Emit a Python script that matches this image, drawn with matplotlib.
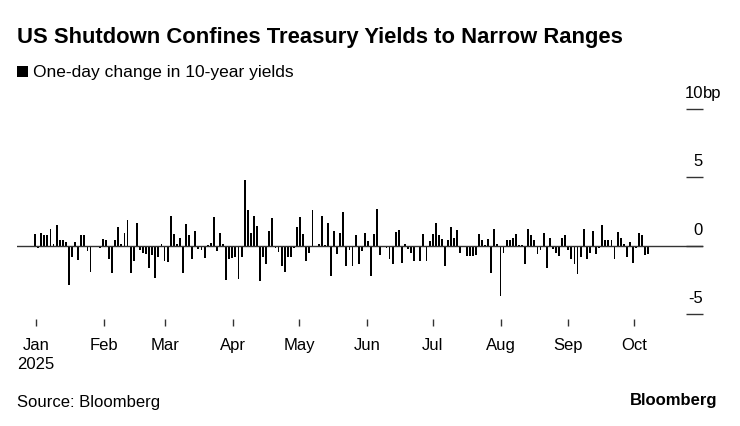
import matplotlib.pyplot as plt
import matplotlib.dates as mdates
import matplotlib.transforms as mtransforms
from matplotlib.patches import Rectangle
import numpy as np
import pandas as pd

# ==============================
# DATA (one-day change in 10y yield, bp, one value per trading day)
# ==============================
FIRST_DAY = "2024-12-31"
LAST_DAY = "2025-10-07"
HOLIDAYS = ["2025-01-01"]

chg_part1 = [0.85, -0.15, 0.9, 0.75, 0.75, 1.2, 0.1, 1.5, 0.45, 0.4, 0.3, -2.85, -0.8, 0.3, -1.05,
             0.75, 0.75, -0.4, -1.9, 0.0, 0.0, -0.2, 0.5, 0.4, -0.95, -2.0, 0.4, 1.4, 0.1, 0.9,
             1.9, -2.0, -1.1]
chg_part2 = [1.7, -0.3, -0.5, -0.6, -1.6, -0.65, -2.35, -0.85, 0.1, -1.1, -1.2, 2.2, 0.85, 0.1, 0.55,
             -2.0, 1.6, 0.8, -1.0, 1.05, -0.25, -0.3, -0.9, 0.05, 0.2, 2.1, -0.4, 0.95, 0.15, -2.5,
             -1.0, -0.9, -0.8, -2.4]
chg_part3 = [-0.8, 4.8, 2.6, 0.9, 2.15, 1.45, -2.6, -0.85, -1.3, 1.1, 2.0, -0.2, -0.45, -1.5, -1.9,
             -0.8, -0.8, -0.2, 1.4, 2.1, 0.85, -1.1, -0.5, 2.6, 0.0, 0.1, 2.2, 0.05, 1.65, -2.25,
             1.1, -0.6, 0.9, 2.5]
chg_part4 = [-1.45, -0.3, -1.45, 0.8, -1.3, -0.35, 0.9, 0.35, -2.2, 0.85, 2.7, -0.65, 0.0, -0.2, -1.0,
             -1.35, 1.0, 1.15, -1.25, 0.1, -0.25, -0.5, -1.15, 0.0, -1.1, 0.85, -1.1, 0.35, 0.85, 1.65,
             0.8, 0.5, -1.5, 0.45]
chg_part5 = [1.4, 0.55, 1.15, -0.5, 0.0, -0.75, -0.75, -0.75, -0.7, 0.85, 0.4, 0.05, 0.5, -2.0, 1.2,
             0.1, -3.65, -0.5, 0.45, 0.45, 0.6, 0.85, 0.05, 0.05, -1.3, 1.25, 0.75, 0.45, -0.6, -0.3,
             0.9, -1.65, 0.55, -0.25]
chg_part6 = [-0.5, -0.75, 0.6, 0.8, -0.3, -1.0, -1.35, -2.05, -0.85, 1.25, -1.0, -0.5, 1.1, -0.6, -0.15,
             1.5, 0.4, 0.45, 0.45, -0.95, 1.0, 0.6, 0.15, -0.8, 0.25, -1.25, -0.2, 0.9, 0.8, -0.65,
             -0.6]

y_ticks = [-5, 0, 5, 10]
y_labels = ["-5", "0", "5", "10"]
month_labels = ["Jan\n2025", "Feb", "Mar", "Apr", "May", "Jun", "Jul", "Aug", "Sep", "Oct"]

TITLE = "US Shutdown Confines Treasury Yields to Narrow Ranges"
LEGEND = "One-day change in 10-year yields"
SOURCE = "Source: Bloomberg"

# ==============================
# STYLE
# ==============================
plt.rcParams["font.family"] = ["Liberation Sans", "DejaVu Sans"]
INK = "#000000"
AXIS = "#333333"
W, H = 740, 427

changes = chg_part1 + chg_part2 + chg_part3 + chg_part4 + chg_part5 + chg_part6
days = pd.bdate_range(FIRST_DAY, LAST_DAY, freq="C", holidays=HOLIDAYS)
# trading days are drawn evenly spaced (no weekend gaps) over the calendar axis
x_pos = np.linspace(mdates.date2num(days[0]) + 0.5, mdates.date2num(days[-1]) + 0.5, len(changes))
month_starts = mdates.date2num(pd.date_range("2025-01-01", "2025-10-01", freq="MS"))

fig = plt.figure(figsize=(W / 100, H / 100), dpi=100)
ax = fig.add_axes([17 / W, 107 / H, 686 / W, 215 / H])

ax.bar(x_pos, changes, width=0.85, color=INK, linewidth=0)
ax.axhline(0, color=AXIS, lw=1.0, zorder=3)

ax.set_xlim(mdates.date2num(pd.Timestamp("2024-12-23 06:00")),
            mdates.date2num(pd.Timestamp("2025-11-01 10:00")))
ax.set_ylim(-5.36, 10.37)

for s in ax.spines.values():
    s.set_visible(False)

# y axis: short ticks on the right, labels sitting on top of them
ax.yaxis.tick_right()
ax.set_yticks(y_ticks)
ax.tick_params(axis="y", direction="in", length=12.5, width=1.0, color=AXIS,
               labelright=False, labelleft=False)
trans = mtransforms.blended_transform_factory(ax.transAxes, ax.transData)
for v, lab in zip(y_ticks, y_labels):
    ax.annotate(lab, xy=(1.0, v), xycoords=trans, xytext=(0, 6.5), textcoords="offset points",
                ha="right", va="bottom", fontsize=12, color=INK)
ax.annotate("bp", xy=(1.0, y_ticks[-1]), xycoords=trans, xytext=(0, 6.5),
            textcoords="offset points", ha="left", va="bottom", fontsize=12, color=INK)

# x axis: month ticks
ax.set_xticks(month_starts)
ax.set_xticklabels(month_labels, fontsize=12, color=INK, linespacing=1.3)
ax.tick_params(axis="x", direction="out", length=5, width=1.0, color=AXIS, pad=8)

# titles and footer
fig.text(17 / W, 1 - 38 / H, TITLE, fontsize=15.8, fontweight="bold", va="center", ha="left")
fig.patches.append(Rectangle((17 / W, 1 - 78 / H), 11 / W, 11 / H, transform=fig.transFigure,
                             facecolor=INK, edgecolor="none"))
fig.text(33 / W, 1 - 73 / H, LEGEND, fontsize=12.5, va="center", ha="left", color=INK)
fig.text(17 / W, 1 - 403 / H, SOURCE, fontsize=12, va="center", ha="left", color=INK)
fig.text(717 / W, 1 - 401 / H, "Bloomberg", fontsize=12, fontweight="bold",
         va="center", ha="right", color=INK)

fig.savefig("out.png", dpi=100, facecolor="white")
